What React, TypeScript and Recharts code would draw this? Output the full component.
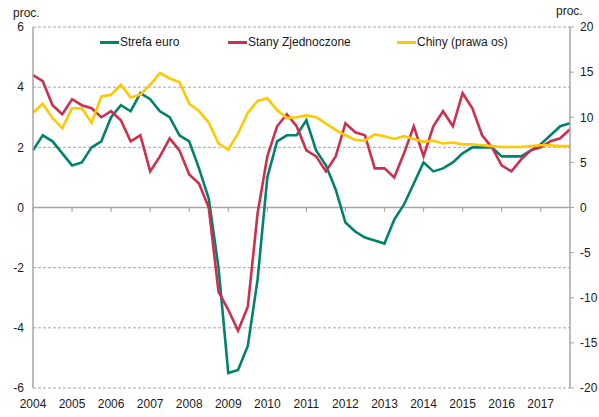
import { LineChart, Line, XAxis, YAxis, CartesianGrid, ReferenceLine } from 'recharts'

const years = ['2004', '2005', '2006', '2007', '2008', '2009', '2010', '2011', '2012', '2013', '2014', '2015', '2016', '2017']

// PKB r/r, dane kwartalne 2004 Q1 - 2017 Q4
const euroArea = [
  1.9, 2.4, 2.2, 1.8, 1.4, 1.5, 2.0, 2.2, 3.0, 3.4, 3.2, 3.8, 3.6, 3.2, 3.0, 2.4,
  2.2, 1.3, 0.3, -2.0, -5.5, -5.4, -4.6, -2.4, 1.0, 2.2, 2.4, 2.4, 2.9, 1.9, 1.4, 0.6,
  -0.5, -0.8, -1.0, -1.1, -1.2, -0.4, 0.1, 0.8, 1.5, 1.2, 1.3, 1.5, 1.8, 2.0, 2.0, 2.0,
  1.7, 1.7, 1.7, 1.9, 2.1, 2.4, 2.7, 2.8,
]
const usa = [
  4.4, 4.2, 3.4, 3.1, 3.6, 3.4, 3.3, 3.0, 3.2, 2.9, 2.2, 2.4, 1.2, 1.7, 2.3, 1.9,
  1.1, 0.8, 0.0, -2.8, -3.4, -4.1, -3.3, -0.2, 1.7, 2.7, 3.1, 2.7, 1.9, 1.7, 1.2, 1.7,
  2.8, 2.5, 2.4, 1.3, 1.3, 1.0, 1.8, 2.7, 1.7, 2.7, 3.2, 2.7, 3.8, 3.3, 2.4, 2.0,
  1.4, 1.2, 1.6, 1.9, 2.0, 2.2, 2.3, 2.6,
]
const china = [
  10.5, 11.5, 9.9, 8.8, 11.0, 11.0, 9.4, 12.3, 12.5, 13.6, 12.2, 12.5, 13.6, 14.9, 14.3, 13.9,
  11.5, 10.7, 9.4, 7.1, 6.4, 8.2, 10.5, 11.8, 12.1, 10.8, 9.9, 10.0, 10.2, 10.0, 9.3, 8.6,
  8.0, 7.5, 7.4, 8.1, 7.9, 7.6, 7.9, 7.6, 7.3, 7.4, 7.1, 7.2, 7.0, 7.0, 6.9, 6.8,
  6.7, 6.7, 6.7, 6.8, 6.9, 6.9, 6.8, 6.8,
]

const leftTicks = [-6, -4, -2, 0, 2, 4, 6]
const rightTicks = [-20, -15, -10, -5, 0, 5, 10, 15, 20]
const yearTicks = years.map((_, k) => k * 4)

const data = euroArea.map((v, i) => ({ i, euro: v, us: usa[i], cn: china[i] }))

const GREEN = '#00826C'
const RED = '#C9314F'
const YELLOW = '#FFC800'
const GREY = '#A6A6A6'
const FONT = '"Liberation Sans", Arial, sans-serif'

const legendItems = [
  { name: 'Strefa euro', color: GREEN, width: 128 },
  { name: 'Stany Zjednoczone', color: RED, width: 169 },
  { name: 'Chiny (prawa os)', color: YELLOW, width: 140 },
]

const ChartLegend = () => (
  <div style={{ position: 'absolute', left: 100, top: 35, display: 'flex', fontFamily: FONT, fontSize: 12, color: '#1a1a1a' }}>
    {legendItems.map((it) => (
      <div key={it.name} style={{ display: 'flex', alignItems: 'center', width: it.width }}>
        <span style={{ display: 'inline-block', width: 19, height: 3, background: it.color }} />
        <span style={{ marginLeft: 1, whiteSpace: 'nowrap' }}>{it.name}</span>
      </div>
    ))}
  </div>
)

export default function App() {
  return (
    <div style={{ position: 'absolute', left: 0, top: 0, width: 599, height: 417, background: '#fff' }}>
      <LineChart width={599} height={417} data={data} margin={{ top: 27, right: 0, bottom: 0, left: 0 }}>
        <CartesianGrid
          yAxisId="left"
          vertical={false}
          stroke={GREY}
          strokeDasharray="3 2"
          horizontalValues={[-6, -4, -2, 2, 4, 6]}
        />
        <XAxis
          dataKey="i"
          type="number"
          domain={[0, 55]}
          ticks={yearTicks}
          tickFormatter={(v) => years[v / 4]}
          axisLine={false}
          tickLine={false}
          height={29}
          tickMargin={5}
          interval={0}
          tick={{ fill: '#1a1a1a', fontSize: 12, fontFamily: FONT }}
        />
        <YAxis
          yAxisId="left"
          domain={[-6, 6]}
          ticks={leftTicks}
          width={33}
          axisLine={{ stroke: GREY, strokeWidth: 1.5 }}
          tickLine={false}
          tickMargin={3}
          interval={0}
          tick={{ fill: '#1a1a1a', fontSize: 12, fontFamily: FONT }}
        />
        <YAxis
          yAxisId="right"
          orientation="right"
          domain={[-20, 20]}
          ticks={rightTicks}
          width={29}
          axisLine={{ stroke: GREY, strokeWidth: 1.5 }}
          tickLine={{ stroke: GREY }}
          tickSize={4}
          tickMargin={6}
          interval={0}
          tick={{ fill: '#1a1a1a', fontSize: 12, fontFamily: FONT, textAnchor: 'start' }}
        />
        <ReferenceLine yAxisId="left" y={0} stroke={GREY} strokeWidth={1.5} />
        {yearTicks.map((t) => (
          <ReferenceLine
            key={t}
            yAxisId="left"
            segment={[{ x: t, y: 0 }, { x: t, y: -0.14 }]}
            stroke={GREY}
            strokeWidth={1.2}
          />
        ))}
        <Line yAxisId="left" dataKey="euro" name="Strefa euro" stroke={GREEN} strokeWidth={2.6} dot={false} isAnimationActive={false} />
        <Line yAxisId="left" dataKey="us" name="Stany Zjednoczone" stroke={RED} strokeWidth={2.6} dot={false} isAnimationActive={false} />
        <Line yAxisId="right" dataKey="cn" name="Chiny (prawa os)" stroke={YELLOW} strokeWidth={2.6} dot={false} isAnimationActive={false} />
      </LineChart>
      <ChartLegend />
      <span style={{ position: 'absolute', left: 13, top: 6, fontFamily: FONT, fontSize: 12, color: '#1a1a1a' }}>proc.</span>
      <span style={{ position: 'absolute', left: 556, top: 4, fontFamily: FONT, fontSize: 12, color: '#1a1a1a' }}>proc.</span>
    </div>
  )
}
